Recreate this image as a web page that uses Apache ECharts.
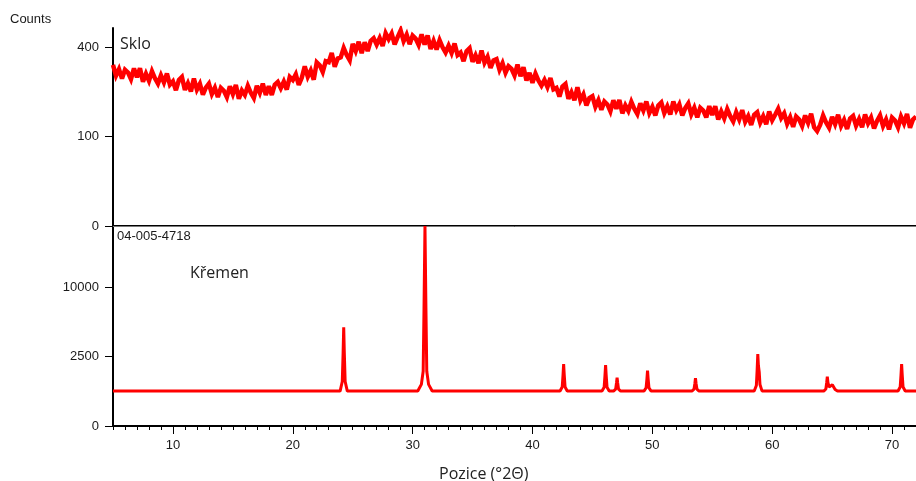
<!DOCTYPE html>
<html>
<head>
<meta charset="utf-8">
<script src="https://cdn.jsdelivr.net/npm/echarts@6/dist/echarts.min.js"></script>
<style>html,body{margin:0;padding:0;background:#fff}#c{width:916px;height:481px}</style>
</head>
<body>
<div id="c"></div>
<script>
// ---- Data ----
// Top panel: glass ("Sklo") diffractogram, counts sampled every 0.25 deg from 5 deg
var glassStart = 5;
var glassStep = 0.25;
var glassCounts = [
325,283,308,272, 306,295,270,311, 277,312,261,290, 264,300,273,254,
284,258,291,250, 262,231,267,278, 232,255,227,272, 233,253,216,240,
254,218,239,208, 239,229,208,244, 218,249,203,230, 215,246,222,205,
246,222,254,215, 245,215,250,260, 238,261,233,278, 267,288,249,275,
319,279,303,268, 335,323,297,340, 336,375,318,351, 356,397,366,344,
415,383,425,374, 423,383,429,442, 412,442,406,465, 437,464,413,447,
479,428,458,414, 454,440,411,460, 412,455,392,429, 390,432,400,377,
407,375,417,366, 377,340,383,396, 338,365,332,386, 334,358,313,343,
349,306,332,294, 320,309,284,326, 281,316,265,294, 257,291,265,247,
267,242,274,234, 239,210,244,253, 203,224,198,241, 198,217,182,205,
211,178,198,169, 194,185,165,198, 172,199,159,182, 166,193,172,157,
188,167,194,160, 178,153,182,191, 160,179,156,194, 168,185,153,174,
188,156,175,148, 175,167,148,180, 154,180,142,164, 145,171,151,137,
162,142,168,136, 151,128,155,162, 134,151,130,164, 140,155,172,146,
159,131,148,123, 150,142,125,153, 133,158,122,113, 128,153,134,121,
149,130,155,125, 141,118,145,152, 126,143,122,156, 132,147,119,138,
153,125,142,117, 147,139,122,150, 132,157,121,142, 150
];
// Bottom panel: reference pattern 04-005-4718 ("Křemen")
var refX = [5,23.95,24.13,24.2,24.25,24.3,24.37,24.55,
  30.43,30.73,30.88,30.95,31.03,31.11,31.18,31.33,31.63,
  42.3,42.48,42.55,42.6,42.65,42.72,42.9,
  45.8,45.98,46.05,46.1,46.15,46.22,46.4,
  46.76,46.94,47.01,47.06,47.11,47.18,47.36,
  49.3,49.48,49.55,49.6,49.65,49.72,49.9,
  53.3,53.48,53.55,53.6,53.65,53.72,53.9,
  58.5,58.68,58.75,58.8,58.85,58.92,58.98,59.15,59.3,
  64.3,64.48,64.55,64.6,64.65,64.75,64.85,65.02,65.1,65.17,65.25,65.45,
  67.3,67.45,67.6,
  70.5,70.68,70.75,70.8,70.85,70.92,71.1,72];
var refCounts = [635,635,1030,2788,5070,2788,1030,635,
  635,900,1560,7174,20790,7174,1560,900,635,
  635,790,1362,1998,1362,790,635,
  635,784,1332,1936,1332,784,635,
  635,708,961,1211,961,708,635,
  635,751,1156,1592,1156,751,635,
  635,708,942,1183,942,708,635,
  635,853,1697,2694,1900,1500,900,640,635,
  635,713,986,1260,986,790,810,880,948,800,690,635,
  635,705,635,
  635,790,1362,1998,1362,790,635,635];
var xLabelTicks = [10,20,30,40,50,60,70];
var topTickCounts = [0,100,400];
var bottomTickCounts = [0,2500,10000];
var topMaxCounts = 491;
var bottomMaxCounts = 20790;

// ---- Build ----
var topData = glassCounts.map(function (v, i) { return [glassStart + i * glassStep, Math.sqrt(v)]; });
var botData = refX.map(function (x, i) { return [x, Math.sqrt(refCounts[i])]; });
var sq = function (a) { return a.map(Math.sqrt); };
var lblFmt = function (v) { return String(Math.round(v * v)); };
var FONT = '"Liberation Sans", Arial, sans-serif';
var SANS = '"Open Sans", "Noto Sans", sans-serif';
var axisBlack = { show: true, lineStyle: { color: '#000', width: 2 } };

var chart = echarts.init(document.getElementById('c'), null, { renderer: 'canvas' });
chart.setOption({
  animation: false,
  backgroundColor: '#fff',
  grid: [
    { left: 113, right: 0, top: 28, height: 198 },
    { left: 113, right: 0, top: 226, height: 200 }
  ],
  xAxis: [
    { gridIndex: 0, type: 'value', position: 'top', min: 5, max: 72,
      axisLine: axisBlack, axisTick: { show: false }, axisLabel: { show: false }, splitLine: { show: false } },
    { gridIndex: 1, type: 'value', position: 'bottom', min: 5, max: 72, interval: 1,
      axisLine: axisBlack, axisTick: { show: true, length: 4, lineStyle: { color: '#000', width: 1 } },
      axisLabel: { show: false }, splitLine: { show: false } },
    { gridIndex: 1, type: 'value', position: 'bottom', min: 5, max: 72,
      axisLine: { show: false },
      axisTick: { show: true, length: 8, customValues: xLabelTicks, lineStyle: { color: '#000', width: 1 } },
      axisLabel: { show: true, customValues: xLabelTicks, margin: 13, color: '#1a1a1a', fontSize: 13, fontFamily: FONT },
      splitLine: { show: false } },
    { gridIndex: 1, type: 'value', position: 'top', min: 5, max: 72,
      axisLine: { show: true, lineStyle: { color: '#7a7a7a', width: 1 } },
      axisTick: { show: false }, axisLabel: { show: false }, splitLine: { show: false } }
  ],
  yAxis: [
    { gridIndex: 0, type: 'value', min: 0, max: Math.sqrt(topMaxCounts),
      axisLine: axisBlack,
      axisTick: { show: true, length: 8, customValues: sq(topTickCounts), lineStyle: { color: '#000', width: 1 } },
      axisLabel: { show: true, customValues: sq(topTickCounts), formatter: lblFmt, margin: 14, color: '#1a1a1a', fontSize: 13, fontFamily: FONT },
      splitLine: { show: false } },
    { gridIndex: 1, type: 'value', min: 0, max: Math.sqrt(bottomMaxCounts),
      axisLine: axisBlack,
      axisTick: { show: true, length: 8, customValues: sq(bottomTickCounts), lineStyle: { color: '#000', width: 1 } },
      axisLabel: { show: true, customValues: sq(bottomTickCounts), formatter: lblFmt, margin: 14, color: '#1a1a1a', fontSize: 13, fontFamily: FONT },
      splitLine: { show: false } }
  ],
  series: [
    { type: 'line', xAxisIndex: 0, yAxisIndex: 0, data: topData, showSymbol: false, symbol: 'none',
      lineStyle: { color: '#ff0000', width: 4.5, join: 'miter', miterLimit: 3 }, z: 1 },
    { type: 'line', xAxisIndex: 1, yAxisIndex: 1, data: botData, showSymbol: false, symbol: 'none',
      lineStyle: { color: '#ff0000', width: 3 }, z: 1 }
  ],
  graphic: [
    { type: 'text', left: 10, top: 13, style: { text: 'Counts', fontSize: 13, fontFamily: FONT, fill: '#1a1a1a' } },
    { type: 'text', left: 120, top: 36, style: { text: 'Sklo', fontSize: 16, fontFamily: SANS, fill: '#222' } },
    { type: 'text', left: 117, top: 230, style: { text: '04-005-4718', fontSize: 13, fontFamily: FONT, fill: '#1a1a1a' } },
    { type: 'text', left: 190, top: 265, style: { text: 'Křemen', fontSize: 16, fontFamily: SANS, fill: '#222' } },
    { type: 'text', left: 439, top: 466, style: { text: 'Pozice (°2Θ)', fontSize: 16, fontFamily: SANS, fill: '#222' } }
  ]
});
</script>
</body>
</html>
